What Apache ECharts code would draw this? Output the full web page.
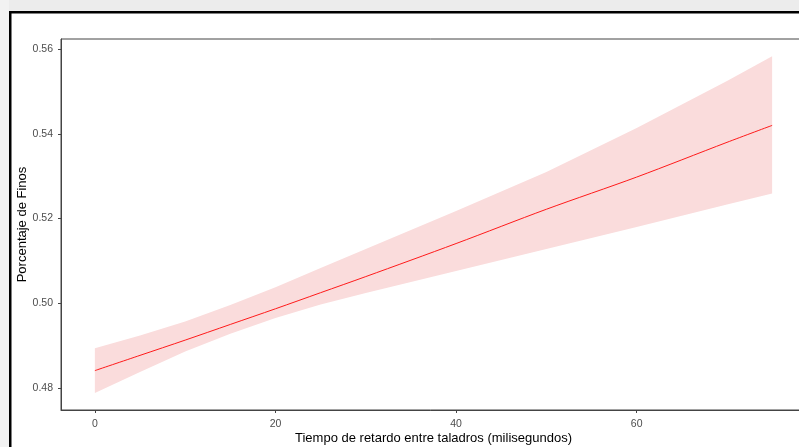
<!DOCTYPE html>
<html>
<head>
<meta charset="utf-8">
<script src="https://cdn.jsdelivr.net/npm/echarts@6/dist/echarts.min.js"></script>
<style>
  html, body { margin: 0; padding: 0; background: #fff; }
  #chart { width: 799px; height: 447px; }
</style>
</head>
<body>
<div id="chart"></div>
<script>
// tiempo de retardo (ms)
var retardo = [0, 5, 10, 15, 20, 25, 30, 40, 50, 60, 70, 75];
// curva ajustada y banda de confianza
var ajuste = [0.4841, 0.4877, 0.4913, 0.4950, 0.4987, 0.5025, 0.5063, 0.5141, 0.5222, 0.5298, 0.5380, 0.5420];
var inferior = [0.4788, 0.4838, 0.4886, 0.4928, 0.4965, 0.4997, 0.5024, 0.5076, 0.5128, 0.5180, 0.5233, 0.5259];
var superior = [0.4894, 0.4924, 0.4957, 0.4996, 0.5038, 0.5083, 0.5128, 0.5218, 0.5310, 0.5414, 0.5525, 0.5583];

var xTicks = [0, 20, 40, 60];
var yTicks = [0.48, 0.50, 0.52, 0.54, 0.56];

var chart = echarts.init(document.getElementById('chart'));

var bandData = retardo.map(function (x, i) { return [x, inferior[i], superior[i]]; });
var fitData = retardo.map(function (x, i) { return [x, ajuste[i]]; });

function renderBand(params, api) {
  if (params.dataIndex !== 0) return;
  var top = [], bottom = [];
  for (var i = 0; i < bandData.length; i++) {
    top.push(api.coord([bandData[i][0], bandData[i][2]]));
    bottom.push(api.coord([bandData[i][0], bandData[i][1]]));
  }
  return {
    type: 'polygon',
    shape: { points: top.concat(bottom.reverse()) },
    style: { fill: '#fadcdc' },
    silent: true
  };
}

var option = {
  animation: false,
  backgroundColor: '#fff',
  grid: {
    left: 61, top: 39, width: 745, height: 371,
    outerBoundsMode: 'none',
    containLabel: false,
    show: true, borderColor: '#444', borderWidth: 1, backgroundColor: 'transparent'
  },
  xAxis: {
    type: 'value',
    min: -3.75,
    max: 78.75,
    name: 'Tiempo de retardo entre taladros (milisegundos)',
    nameLocation: 'middle',
    nameGap: 22,
    nameMoveOverlap: false,
    nameTextStyle: { color: '#000', fontSize: 13, fontFamily: 'Liberation Sans' },
    axisLine: { onZero: false, lineStyle: { color: '#444', width: 1 } },
    axisTick: { show: true, length: 3, customValues: xTicks, lineStyle: { color: '#444' } },
    axisLabel: { customValues: xTicks, color: '#4d4d4d', fontSize: 10.5, fontFamily: 'Liberation Sans', margin: 9 },
    splitLine: { show: false }
  },
  yAxis: {
    type: 'value',
    min: 0.4748,
    max: 0.5624,
    name: 'Porcentaje de Finos',
    nameLocation: 'middle',
    nameGap: 32,
    nameMoveOverlap: false,
    nameTextStyle: { color: '#000', fontSize: 13, fontFamily: 'Liberation Sans' },
    axisLine: { show: true, onZero: false, lineStyle: { color: '#444', width: 1 } },
    axisTick: { show: true, length: 3, customValues: yTicks, lineStyle: { color: '#444' } },
    axisLabel: {
      customValues: yTicks, color: '#4d4d4d', fontSize: 10.5, fontFamily: 'Liberation Sans', margin: 8,
      formatter: function (v) { return v.toFixed(2); }
    },
    splitLine: { show: false }
  },
  graphic: [
    { type: 'rect', shape: { x: 0, y: 0, width: 799, height: 11 }, style: { fill: '#ececec' }, z: 100 },
    { type: 'rect', shape: { x: 0, y: 0, width: 9, height: 447 }, style: { fill: '#f2f2f2' }, z: 100 },
    { type: 'rect', shape: { x: 9, y: 11, width: 790, height: 2.5 }, style: { fill: '#000' }, z: 101 },
    { type: 'rect', shape: { x: 9, y: 11, width: 2.5, height: 436 }, style: { fill: '#000' }, z: 101 }
  ],
  series: [
    {
      type: 'custom', data: bandData, renderItem: renderBand,
      encode: { x: 0, y: [1, 2] }, silent: true, z: 1
    },
    {
      type: 'line', data: fitData, symbol: 'none', smooth: 0.3,
      lineStyle: { color: '#ff1a1a', width: 1 }, z: 5
    }
  ]
};
chart.setOption(option);
</script>
</body>
</html>
